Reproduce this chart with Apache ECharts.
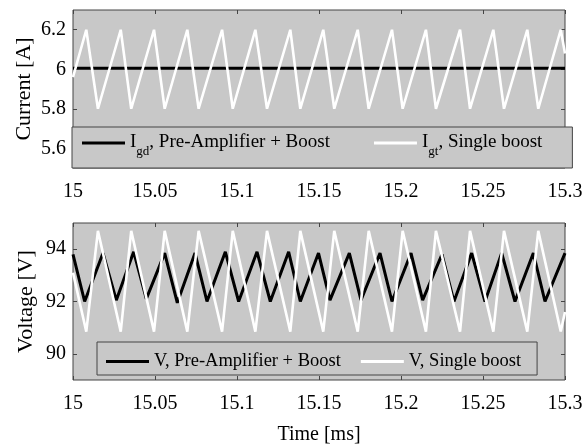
<!DOCTYPE html>
<html>
<head>
<meta charset="utf-8">
<script src="https://cdn.jsdelivr.net/npm/echarts@6/dist/echarts.min.js"></script>
<style>html,body{margin:0;padding:0;background:#fff;}#c{width:588px;height:446px;}</style>
</head>
<body>
<div id="c"></div>
<script>
// ---- data (time in ms) ----
var xTicks = [15, 15.05, 15.1, 15.15, 15.2, 15.25, 15.3];
var currentTicks = [5.6, 5.8, 6, 6.2];
var voltageTicks = [90, 92, 94];

var currentBlackT = [15, 15.3];
var currentBlackV = [6.005, 6.005];

var whiteT = [15.0, 15.0081, 15.0152, 15.0291, 15.0355, 15.0494, 15.0559, 15.0697, 15.0766, 15.0909,
  15.0974, 15.1112, 15.1183, 15.1325, 15.1386, 15.1526, 15.1593, 15.1736, 15.1803, 15.1945,
  15.2010, 15.2152, 15.2213, 15.2360, 15.2421, 15.2563, 15.2628, 15.2770, 15.2837, 15.2974, 15.3];
var currentWhiteV = [5.96, 6.2, 5.8, 6.2, 5.8, 6.2, 5.8, 6.2, 5.8, 6.2, 5.8, 6.2, 5.8, 6.2, 5.8,
  6.2, 5.8, 6.2, 5.8, 6.2, 5.8, 6.2, 5.8, 6.2, 5.8, 6.2, 5.8, 6.2, 5.8, 6.2, 6.08];
var voltageWhiteV = [93.1, 90.85, 94.7, 90.85, 94.7, 90.85, 94.7, 90.85, 94.7, 90.85, 94.7, 90.85, 94.7,
  90.85, 94.7, 90.85, 94.7, 90.85, 94.7, 90.85, 94.7, 90.85, 94.7, 90.85, 94.7, 90.85, 94.7, 90.85, 94.7, 90.85, 91.6];

var voltageBlackT = [15.0, 15.0071, 15.0183, 15.0264, 15.0370, 15.0447, 15.0559, 15.0636, 15.0744, 15.0817,
  15.0929, 15.1010, 15.1122, 15.1203, 15.1315, 15.1386, 15.1497, 15.1567, 15.1685, 15.1756,
  15.1872, 15.1945, 15.2061, 15.2132, 15.2250, 15.2323, 15.2431, 15.2512, 15.2614, 15.2695,
  15.2807, 15.2878, 15.3];
var voltageBlackV = [93.8, 92.0, 93.85, 92.05, 93.9, 92.1, 93.85, 91.95, 93.85, 92.0, 93.9, 92.0, 93.9,
  92.0, 93.9, 92.0, 93.85, 92.05, 93.85, 92.05, 93.85, 92.0, 93.85, 92.05, 93.8, 92.0, 93.85,
  92.0, 93.85, 92.0, 93.85, 92.0, 93.85];

var names = ['Igd, Pre-Amplifier + Boost', 'Igt, Single boost', 'V, Pre-Amplifier + Boost', 'V, Single boost'];

function pairs(t, v) { return t.map(function (x, i) { return [x, v[i]]; }); }

var FONT = 'Liberation Serif';
var frame = '#444';
var bg = '#c8c8c8';

function xAx(grid, pos, labels) {
  return {
    type: 'value', gridIndex: grid, position: pos, min: 15, max: 15.3, interval: 0.05,
    axisLine: { show: false },
    axisTick: { show: true, inside: true, length: 4, lineStyle: { color: frame } },
    axisLabel: { show: labels, color: '#000', fontFamily: FONT, fontSize: 20, margin: 14 },
    splitLine: { show: false }
  };
}
function yAx(grid, pos, min, max, ticks, labels, name, gap) {
  return {
    type: 'value', gridIndex: grid, position: pos, min: min, max: max,
    name: name || '', nameLocation: 'middle', nameGap: gap || 34, nameMoveOverlap: false,
    nameTextStyle: { color: '#000', fontFamily: FONT, fontSize: 22 },
    axisLine: { show: false },
    axisTick: { show: true, inside: true, length: 4, customValues: ticks, lineStyle: { color: frame } },
    axisLabel: { show: labels, customValues: ticks, color: '#000', fontFamily: FONT, fontSize: 20, margin: 7 },
    splitLine: { show: false }
  };
}

var chart = echarts.init(document.getElementById('c'), null, { renderer: 'canvas' });
var xBottom = xAx(1, 'bottom', true);
xBottom.name = 'Time [ms]';
xBottom.nameLocation = 'middle';
xBottom.nameGap = 45;
xBottom.nameMoveOverlap = false;
xBottom.nameTextStyle = { color: '#000', fontFamily: FONT, fontSize: 20 };

chart.setOption({
  backgroundColor: '#fff',
  animation: false,
  grid: [
    { left: 73, right: 23, top: 10, height: 158, show: true, backgroundColor: bg, borderColor: frame, borderWidth: 1 },
    { left: 73, right: 23, top: 223, height: 157, show: true, backgroundColor: bg, borderColor: frame, borderWidth: 1 }
  ],
  xAxis: [xAx(0, 'bottom', true), xAx(0, 'top', false), xBottom, xAx(1, 'top', false)],
  yAxis: [
    yAx(0, 'left', 5.5, 6.3, currentTicks, true, 'Current [A]', 38),
    yAx(0, 'right', 5.5, 6.3, currentTicks, false),
    yAx(1, 'left', 89, 95, voltageTicks, true, 'Voltage [V]', 36),
    yAx(1, 'right', 89, 95, voltageTicks, false)
  ],
  legend: [
    {
      data: [names[0], names[1]], left: 72, top: 127, orient: 'horizontal',
      icon: 'rect', itemWidth: 43, itemHeight: 3, itemGap: 44,
      padding: [6, 30, 10, 10],
      backgroundColor: bg, borderColor: frame, borderWidth: 1, borderRadius: 0,
      formatter: function (n) {
        var rest = n.slice(3);
        return '{m|I}{s|' + n.slice(1, 3) + '}{m|' + rest + '}';
      },
      textStyle: {
        color: '#000', fontFamily: FONT, fontSize: 19,
        rich: {
          m: { fontFamily: FONT, fontSize: 19, lineHeight: 20, verticalAlign: 'top', color: '#000' },
          s: { fontFamily: FONT, fontSize: 13, lineHeight: 13, padding: [12, 0, 0, 0], verticalAlign: 'top', color: '#000' }
        }
      }
    },
    {
      data: [names[2], names[3]], left: 97, top: 342, orient: 'horizontal',
      icon: 'rect', itemWidth: 43, itemHeight: 3, itemGap: 20,
      padding: [10, 16, 4, 9],
      backgroundColor: bg, borderColor: frame, borderWidth: 1, borderRadius: 0,
      textStyle: { color: '#000', fontFamily: FONT, fontSize: 18.5 }
    }
  ],
  series: [
    { name: names[0], type: 'line', xAxisIndex: 0, yAxisIndex: 0, data: pairs(currentBlackT, currentBlackV),
      symbol: 'none', lineStyle: { color: '#000', width: 3 }, itemStyle: { color: '#000' } },
    { name: names[1], type: 'line', xAxisIndex: 0, yAxisIndex: 0, data: pairs(whiteT, currentWhiteV),
      symbol: 'none', lineStyle: { color: '#fff', width: 2.6 }, itemStyle: { color: '#fff' } },
    { name: names[2], type: 'line', xAxisIndex: 2, yAxisIndex: 2, data: pairs(voltageBlackT, voltageBlackV),
      symbol: 'none', lineStyle: { color: '#000', width: 3 }, itemStyle: { color: '#000' } },
    { name: names[3], type: 'line', xAxisIndex: 2, yAxisIndex: 2, data: pairs(whiteT, voltageWhiteV),
      symbol: 'none', lineStyle: { color: '#fff', width: 2.6 }, itemStyle: { color: '#fff' } }
  ]
});
</script>
</body>
</html>
